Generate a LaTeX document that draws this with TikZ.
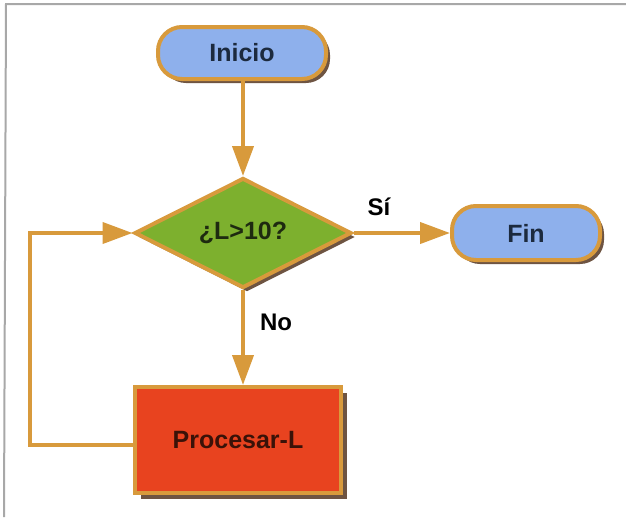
\documentclass[tikz,border=0pt]{standalone}
\usepackage{fontspec}
\setmainfont{Liberation Sans}
\usetikzlibrary{shapes.geometric,arrows.meta,shadows}
\definecolor{edgeor}{HTML}{D89A3C}
\definecolor{pillblue}{HTML}{8EB0EC}
\definecolor{diagreen}{HTML}{7DB02E}
\definecolor{boxred}{HTML}{E8431F}
\definecolor{shadowbr}{HTML}{6E5442}
\definecolor{txtnavy}{HTML}{1C2A3E}
\definecolor{txtgreen}{HTML}{1E2A10}
\definecolor{txtred}{HTML}{3A1208}
\definecolor{framegray}{HTML}{A8A8A8}
\tikzset{
  shad/.style={drop shadow={shadow xshift=4pt,shadow yshift=-4pt,fill=shadowbr,opacity=1}},
  pill/.style={draw=edgeor,line width=4pt,fill=pillblue,rounded corners=24pt,shad,
    font=\bfseries\fontsize{25}{28}\selectfont,text=txtnavy,inner sep=0pt},
  decision/.style={diamond,draw=edgeor,line width=4pt,fill=diagreen,shad,aspect=2,inner sep=0pt,
    font=\bfseries\fontsize{25}{28}\selectfont,text=txtgreen},
  process/.style={rectangle,draw=edgeor,line width=4pt,fill=boxred,
    drop shadow={shadow xshift=6pt,shadow yshift=-6pt,fill=shadowbr,opacity=1},
    font=\bfseries\fontsize{25}{28}\selectfont,text=txtred,inner sep=0pt},
  conn/.style={draw=edgeor,line width=4pt,-{Triangle[length=30pt,width=21pt]}},
  lbl/.style={font=\bfseries\fontsize{24}{28}\selectfont,text=black}
}
\begin{document}
\begin{tikzpicture}[x=1pt,y=-1pt]
\useasboundingbox (0,0) rectangle (626,517);
\fill[white] (0,0) rectangle (626,517);
\draw[framegray,line width=2pt] (4,517) -- (6,4) -- (626,4);
\node[pill,minimum width=168pt,minimum height=52pt] (ini) at (242,53) {Inicio};
\node[decision,minimum width=217pt,minimum height=110pt] (dec) at (243,233) {¿L>10?};
\node[pill,minimum width=148pt,minimum height=54pt] (fin) at (526,233) {Fin};
\node[process,minimum width=206pt,minimum height=106pt] (proc) at (238,440) {Procesar-L};
\coordinate (lb) at (30,445);
\coordinate (lt) at (30,233);
\draw[conn] (ini.south -| dec.north) -- (dec.north);
\draw[conn] (dec.east) -- (fin.west);
\draw[conn] (dec.south) -- (dec.south |- proc.north);
\draw[conn] (proc.west |- lb) -- (lb) -- (lt) -- (dec.west);
\node[lbl] (si) at (379,207) {Sí};
\node[lbl] (no) at (276,322) {No};
\end{tikzpicture}
\end{document}
